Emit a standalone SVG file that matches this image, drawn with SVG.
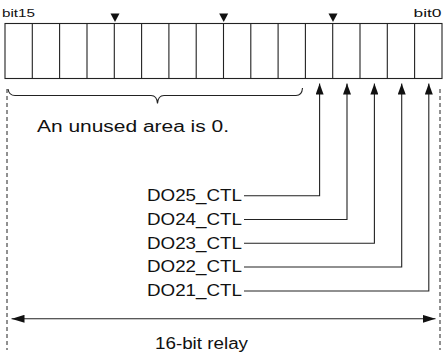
<svg xmlns="http://www.w3.org/2000/svg" width="445" height="354" viewBox="0 0 445 354">
<style>
text{font-family:"Liberation Sans",Arial,sans-serif;fill:#111;}
.lbl{font-size:16px;}
.sm{font-size:11.5px;}
.cell{fill:#fff;stroke:#222;stroke-width:1.1;}
.ln{fill:none;stroke:#222;stroke-width:1.1;}
.dash{fill:none;stroke:#222;stroke-width:1;stroke-dasharray:4,3;}
.tri{fill:#111;}
</style>
<defs>
<marker id="ah" markerUnits="userSpaceOnUse" markerWidth="11" markerHeight="8" refX="11" refY="4" orient="auto">
<path d="M0,0 L11,4 L0,8 z" fill="#111"/>
</marker>
<marker id="ah2" markerUnits="userSpaceOnUse" markerWidth="13" markerHeight="8" refX="13" refY="4" orient="auto-start-reverse">
<path d="M0,0 L13,4 L0,8 z" fill="#111"/>
</marker>
</defs>

<g id="register">
<rect class="cell" x="5" y="23.5" width="437" height="55"/>
<path class="ln" d="M32.3,23.5V78.5 M59.6,23.5V78.5 M87,23.5V78.5 M114.3,23.5V78.5 M141.6,23.5V78.5 M168.9,23.5V78.5 M196.2,23.5V78.5 M223.5,23.5V78.5 M250.8,23.5V78.5 M278.1,23.5V78.5 M305.4,23.5V78.5 M332.7,23.5V78.5 M360,23.5V78.5 M387.3,23.5V78.5 M414.6,23.5V78.5"/>
<polygon class="tri" points="110.5,13.5 119.5,13.5 115,22"/>
<polygon class="tri" points="219.2,13.5 228.2,13.5 223.7,22"/>
<polygon class="tri" points="328.5,13.5 337.5,13.5 333,22"/>
</g>

<g id="bit15"><text class="sm" x="2" y="17" textLength="33" lengthAdjust="spacingAndGlyphs">bit15</text></g>
<g id="bit0"><text class="sm" x="413.5" y="17" textLength="28" lengthAdjust="spacingAndGlyphs">bit0</text></g>

<g id="unused">
<path class="ln" d="M8,89 Q9,95.5 15,95.5 H151 Q157,95.5 157.5,103.5 Q158,95.5 164,95.5 H296 Q302,95.5 302.5,88"/>
<text class="lbl" x="37" y="131.5" textLength="192" lengthAdjust="spacingAndGlyphs">An unused area is 0.</text>
</g>

<g id="do25"><text class="lbl" x="147" y="201" textLength="95" lengthAdjust="spacingAndGlyphs">DO25_CTL</text></g>
<g id="do24"><text class="lbl" x="147" y="224.8" textLength="95" lengthAdjust="spacingAndGlyphs">DO24_CTL</text></g>
<g id="do23"><text class="lbl" x="147" y="248.5" textLength="95" lengthAdjust="spacingAndGlyphs">DO23_CTL</text></g>
<g id="do22"><text class="lbl" x="147" y="272.3" textLength="95" lengthAdjust="spacingAndGlyphs">DO22_CTL</text></g>
<g id="do21"><text class="lbl" x="147" y="296.3" textLength="95" lengthAdjust="spacingAndGlyphs">DO21_CTL</text></g>

<g id="relay"><text class="lbl" x="155" y="348.5" textLength="93" lengthAdjust="spacingAndGlyphs">16-bit relay</text></g>

<g id="connectors">
<path class="ln" d="M244,195.7 H319.6 V83.5" marker-end="url(#ah)"/>
<path class="ln" d="M244,219.5 H347 V83.5" marker-end="url(#ah)"/>
<path class="ln" d="M244,243.2 H374.4 V83.5" marker-end="url(#ah)"/>
<path class="ln" d="M244,267 H401.7 V83.5" marker-end="url(#ah)"/>
<path class="ln" d="M244,291 H428.8 V83.5" marker-end="url(#ah)"/>
<line class="dash" x1="7" y1="89" x2="7" y2="350"/>
<line class="dash" x1="440" y1="89" x2="440" y2="350"/>
<line class="ln" x1="11.5" y1="318.8" x2="435.5" y2="318.8" marker-start="url(#ah2)" marker-end="url(#ah2)"/>
</g>
</svg>
